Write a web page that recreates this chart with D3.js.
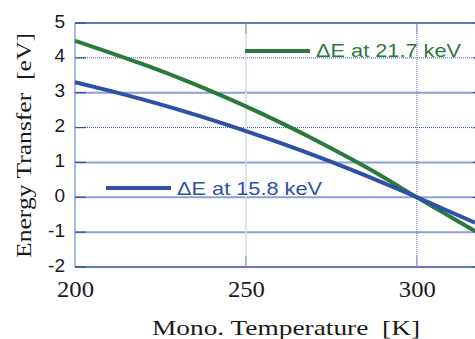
<!DOCTYPE html>
<html>
<head>
<meta charset="utf-8">
<script src="https://cdn.jsdelivr.net/npm/d3@7"></script>
<style>
  body { margin: 0; background: #fff; }
  svg { display: block; }
  .serif { font-family: "Liberation Serif", "DejaVu Serif", serif; fill: #1a1a1a; }
  .sans { font-family: "Liberation Sans", "DejaVu Sans", sans-serif; }
</style>
</head>
<body>
<div id="chart"></div>
<script>
// temperatures [K] and energy transfer [eV]
var temps = [200, 210, 220, 230, 240, 250, 260, 270, 280, 290, 300, 310, 317];
var dE217 = [4.49, 4.16, 3.81, 3.44, 3.04, 2.61, 2.15, 1.66, 1.14, 0.59, 0, -0.57, -0.97];
var dE158 = [3.30, 3.06, 2.80, 2.52, 2.22, 1.90, 1.56, 1.20, 0.82, 0.42, 0, -0.43, -0.73];
var xTicks = [200, 250, 300];
var yTicks = [-2, -1, 0, 1, 2, 3, 4, 5];

var width = 475, height = 339,
    margin = {top: 23, right: 0, bottom: 72, left: 75};

var green = "#2b7a3b", blue = "#3050a8";

var svg = d3.select("#chart").append("svg")
  .attr("width", width)
  .attr("height", height);

var x = d3.scaleLinear()
  .domain([200, 317])
  .range([margin.left, width - margin.right]);

var y = d3.scaleLinear()
  .domain([-2, 5])
  .range([height - margin.bottom, margin.top]);

var x0 = margin.left, x1 = width - margin.right;
var y0 = height - margin.bottom, y1 = margin.top;

var isSolid = function(d){ return Math.abs(d) % 2 === 1 || d === 0; };

// horizontal grid: odd values + zero solid light, even values dotted dark
svg.selectAll(".hgrid")
  .data(yTicks.filter(function(d){ return d > -2 && d < 5; }))
  .enter()
  .append("line")
  .attr("x1", x0).attr("x2", x1)
  .attr("y1", function(d){ return y(d); })
  .attr("y2", function(d){ return y(d); })
  .style("stroke", function(d){ return isSolid(d) ? "#8a9fd3" : "#3a56a8"; })
  .style("stroke-width", function(d){ return isSolid(d) ? 2 : 1; })
  .style("stroke-dasharray", function(d){ return isSolid(d) ? null : "1,1"; });

// vertical grid
svg.append("line")
  .attr("x1", x(250)).attr("x2", x(250))
  .attr("y1", y1).attr("y2", y0)
  .style("stroke", "#d3dbef").style("stroke-width", 1.5);
svg.append("line")
  .attr("x1", x(300)).attr("x2", x(300))
  .attr("y1", y1).attr("y2", y0)
  .style("stroke", "#5a74c0").style("stroke-width", 1)
  .style("stroke-dasharray", "1,1");

// frame
svg.append("line")
  .attr("x1", x0).attr("x2", x0).attr("y1", y1).attr("y2", y0)
  .style("stroke", "#a9bbe3").style("stroke-width", 2);
svg.append("line")
  .attr("x1", x0).attr("x2", x1).attr("y1", y1).attr("y2", y1)
  .style("stroke", "#2f4f9c").style("stroke-width", 1.5);
svg.append("line")
  .attr("x1", x0).attr("x2", x1).attr("y1", y0).attr("y2", y0)
  .style("stroke", "#2f4f9c").style("stroke-width", 1.5);

// tick marks (left, and the tips of the right-hand ones)
svg.selectAll(".ytick")
  .data(yTicks)
  .enter()
  .append("line")
  .attr("x1", x0).attr("x2", x0 + 11)
  .attr("y1", function(d){ return y(d); })
  .attr("y2", function(d){ return y(d); })
  .style("stroke", "#2f4f9c").style("stroke-width", 1.2);
svg.selectAll(".ytickr")
  .data(yTicks)
  .enter()
  .append("line")
  .attr("x1", x1 - 2).attr("x2", x1)
  .attr("y1", function(d){ return y(d); })
  .attr("y2", function(d){ return y(d); })
  .style("stroke", "#2f4f9c").style("stroke-width", 1.2);
svg.selectAll(".xtick")
  .data(xTicks.slice(1))
  .enter()
  .append("g")
  .each(function(d){
    d3.select(this).append("line")
      .attr("x1", x(d)).attr("x2", x(d))
      .attr("y1", y1).attr("y2", y1 + 11)
      .style("stroke", "#8a9fd3").style("stroke-width", 1.2);
    d3.select(this).append("line")
      .attr("x1", x(d)).attr("x2", x(d))
      .attr("y1", y0).attr("y2", y0 - 11)
      .style("stroke", "#8a9fd3").style("stroke-width", 1.2);
  });

// curves
var line = d3.line()
  .curve(d3.curveNatural)
  .x(function(d){ return x(d[0]); })
  .y(function(d){ return y(d[1]); });

svg.append("path")
  .datum(d3.zip(temps, dE217))
  .attr("d", line)
  .style("fill", "none")
  .style("stroke", green)
  .style("stroke-width", 4);

svg.append("path")
  .datum(d3.zip(temps, dE158))
  .attr("d", line)
  .style("fill", "none")
  .style("stroke", blue)
  .style("stroke-width", 4);

// tick labels
svg.selectAll(".ylab")
  .data(yTicks)
  .enter()
  .append("text")
  .attr("class", "sans")
  .attr("x", 65)
  .attr("y", function(d){ return y(d) + 4.5; })
  .attr("text-anchor", "end")
  .style("font-size", "19px")
  .style("fill", "#1a1a1a")
  .text(function(d){ return d; });

svg.selectAll(".xlab")
  .data(xTicks)
  .enter()
  .append("text")
  .attr("class", "serif")
  .attr("x", function(d){ return x(d) - 18; })
  .attr("y", 297)
  .attr("textLength", 37)
  .attr("lengthAdjust", "spacingAndGlyphs")
  .style("font-size", "24px")
  .text(function(d){ return d; });

// axis titles
svg.append("text")
  .attr("class", "serif")
  .attr("x", 152)
  .attr("y", 335)
  .attr("textLength", 268)
  .attr("lengthAdjust", "spacingAndGlyphs")
  .style("font-size", "22px")
  .style("white-space", "pre")
  .text("Mono. Temperature  [K]");

svg.append("text")
  .attr("class", "serif")
  .attr("transform", "translate(31,258) rotate(-90)")
  .attr("textLength", 225)
  .attr("lengthAdjust", "spacingAndGlyphs")
  .style("font-size", "22px")
  .style("white-space", "pre")
  .text("Energy Transfer  [eV]");

// legends
var legends = [
  {label: "\u0394E at 21.7 keV", color: green, lx: 245, ly: 51, tx: 316, ty: 57},
  {label: "\u0394E at 15.8 keV", color: blue, lx: 106, ly: 188, tx: 177, ty: 195}
];
legends.forEach(function(l){
  svg.append("line")
    .attr("x1", l.lx).attr("x2", l.tx - 6)
    .attr("y1", l.ly).attr("y2", l.ly)
    .style("stroke", l.color).style("stroke-width", 4);
  svg.append("text")
    .attr("class", "sans")
    .attr("x", l.tx)
    .attr("y", l.ty)
    .attr("textLength", 145)
    .attr("lengthAdjust", "spacingAndGlyphs")
    .style("font-size", "19px")
    .style("fill", l.color)
    .text(l.label);
});
</script>
</body>
</html>
